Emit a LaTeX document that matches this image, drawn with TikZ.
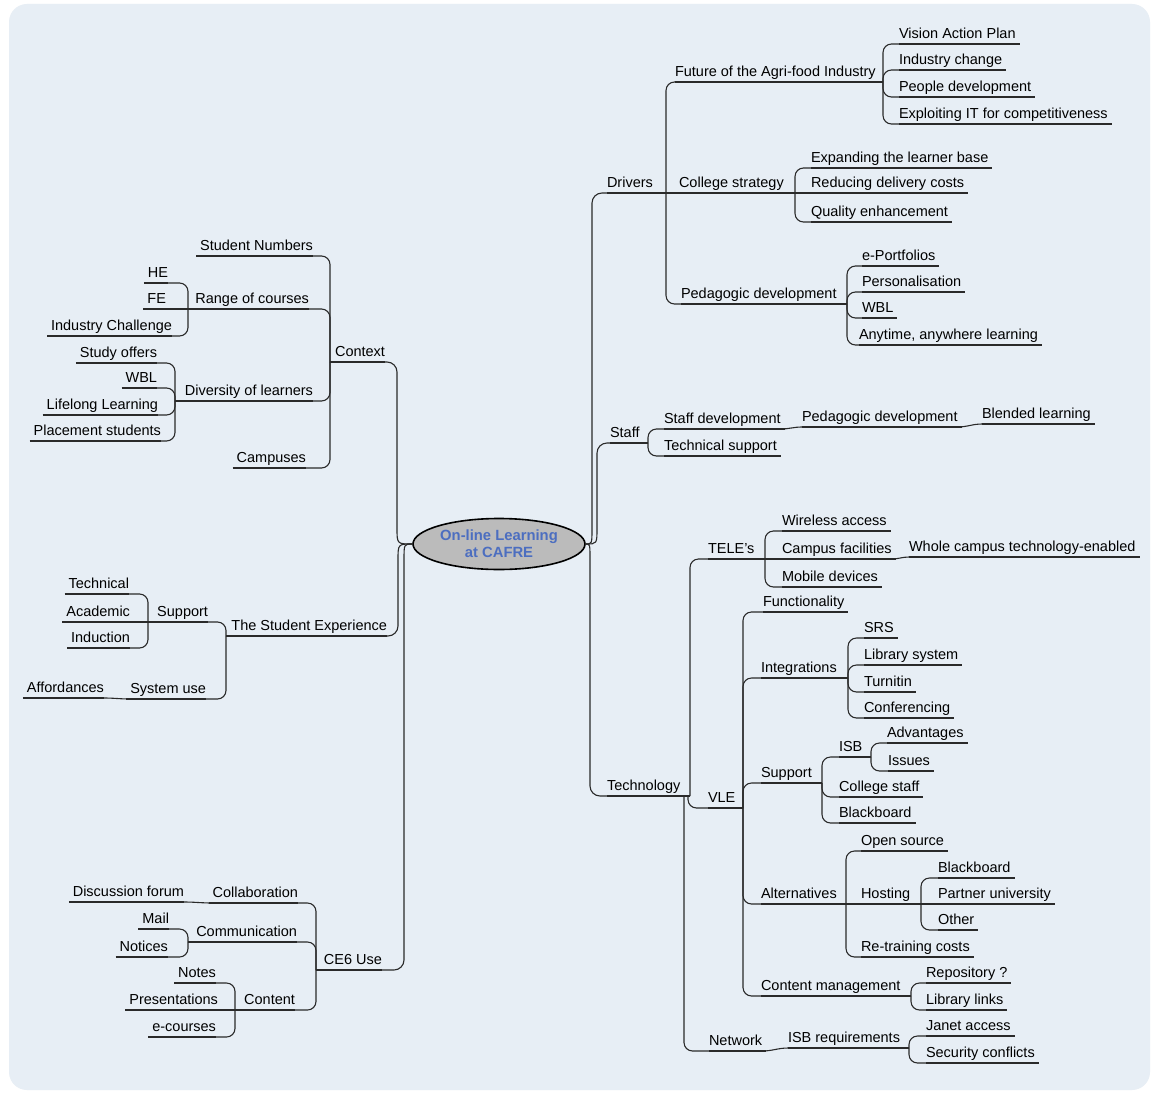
\documentclass[tikz,border=0pt]{standalone}
\usepackage{fontspec}
\setmainfont{Liberation Sans}
\usetikzlibrary{shapes.geometric}
\definecolor{bgc}{HTML}{E7EEF5}
\definecolor{ellfill}{HTML}{BBBBBB}
\definecolor{ttblue}{HTML}{4C6EC0}
\definecolor{lnc}{HTML}{2A2A2A}
\tikzset{
  ln/.style={draw=lnc, line width=1.1pt},
  base/.style={inner xsep=0pt, inner ysep=2.8pt, outer sep=0pt, text height=10.5pt, text depth=3.1pt, font=\fontsize{14.5}{17}\selectfont},
  rn/.style={base, anchor=south west},
  lnn/.style={base, anchor=south east},
}
\newcommand\nodeR[4]{\node[rn] (#1) at (#2,#3) {#4}; \draw[ln] (#1.south west) -- ([xshift=4pt]#1.south east);}
\newcommand\nodeL[4]{\node[lnn] (#1) at (#2,#3) {#4}; \draw[ln] ([xshift=-4pt]#1.south west) -- (#1.south east);}
\newcommand\linkR[3]{\draw[ln] (#1.south east) -- (#3,0 |- #1.south east); \draw[ln, rounded corners=8.5pt] (#3,0 |- #1.south east) -- (#3,0 |- #2.south west) -- (#2.south west);}
\newcommand\linkL[3]{\draw[ln] (#1.south west) -- (#3,0 |- #1.south west); \draw[ln, rounded corners=8.5pt] (#3,0 |- #1.south west) -- (#3,0 |- #2.south east) -- (#2.south east);}
\newcommand\straightR[2]{\draw[ln] (#1.south east) -- (#2.south west);}
\newcommand\straightL[2]{\draw[ln] (#1.south west) -- (#2.south east);}
\newcommand\smoothR[2]{\draw[ln] (#1.south east) to[out=0,in=180] (#2.south west);}
\newcommand\smoothL[2]{\draw[ln] (#1.south west) to[out=180,in=0] (#2.south east);}
\newcommand\centerR[3]{\draw[ln] (C.east) .. controls (#3,544) .. (#3,#2) [rounded corners=10pt] -- (#3,0 |- #1.south west) -- (#1.south west);}
\newcommand\centerL[3]{\draw[ln] (C.west) .. controls (#3,544) .. (#3,#2) [rounded corners=10pt] -- (#3,0 |- #1.south east) -- (#1.south east);}
\begin{document}
\begin{tikzpicture}[x=1pt,y=-1pt]
\useasboundingbox (0,0) rectangle (1155,1094);
\fill[white] (0,0) rectangle (1155,1094);
\fill[bgc, rounded corners=18pt] (9,4) rectangle (1150,1090);
% ---------------- center node
\node[ellipse, draw=black, line width=1.6pt, fill=ellfill, minimum width=172pt, minimum height=51pt, inner sep=0pt, align=center, text=ttblue, font=\fontsize{14.8}{17}\selectfont\bfseries] (C) at (499,544) {On-line Learning\\at CAFRE};
% ---------------- Drivers
\nodeR{drv}{607}{193}{Drivers}
\nodeR{fut}{675}{82}{Future of the Agri-food Industry}
\nodeR{vis}{899}{44}{Vision Action Plan}
\nodeR{ind}{899}{70}{Industry change}
\nodeR{ppl}{899}{97}{People development}
\nodeR{xit}{899}{124}{Exploiting IT for competitiveness}
\nodeR{col}{679}{193}{College strategy}
\nodeR{exb}{811}{168}{Expanding the learner base}
\nodeR{red}{811}{193}{Reducing delivery costs}
\nodeR{qua}{811}{222}{Quality enhancement}
\nodeR{ped}{681}{304}{Pedagogic development}
\nodeR{epf}{862}{266}{e-Portfolios}
\nodeR{per}{862}{292}{Personalisation}
\nodeR{wbl}{862}{318}{WBL}
\nodeR{any}{859}{345}{Anytime, anywhere learning}
\linkR{drv}{fut}{666}
\straightR{drv}{col}
\linkR{drv}{ped}{666}
\linkR{fut}{vis}{883}
\linkR{fut}{ind}{883}
\linkR{fut}{ppl}{883}
\linkR{fut}{xit}{883}
\linkR{col}{exb}{795}
\straightR{col}{red}
\linkR{col}{qua}{795}
\linkR{ped}{epf}{847}
\linkR{ped}{per}{847}
\linkR{ped}{wbl}{847}
\linkR{ped}{any}{847}
% ---------------- Staff
\nodeR{stf}{610}{443}{Staff}
\nodeR{sdv}{664}{429}{Staff development}
\nodeR{pdv}{802}{427}{Pedagogic development}
\nodeR{bll}{982}{424}{Blended learning}
\nodeR{tsp}{664}{456}{Technical support}
\linkR{stf}{sdv}{648}
\linkR{stf}{tsp}{648}
\smoothR{sdv}{pdv}
\smoothR{pdv}{bll}
% ---------------- Technology
\nodeR{tec}{607}{796}{Technology}
\nodeR{tel}{708}{559}{TELE's}
\nodeR{wir}{782}{531}{Wireless access}
\nodeR{cam}{782}{559}{Campus facilities}
\nodeR{whl}{909}{557}{Whole campus technology-enabled}
\nodeR{mob}{782}{587}{Mobile devices}
\linkR{tec}{tel}{690}
\linkR{tel}{wir}{765}
\straightR{tel}{cam}
\linkR{tel}{mob}{765}
\smoothR{cam}{whl}
\nodeR{vle}{708}{808}{VLE}
\linkR{tec}{vle}{688}
\nodeR{fun}{763}{612}{Functionality}
\nodeR{int}{761}{678}{Integrations}
\nodeR{srs}{864}{638}{SRS}
\nodeR{lsy}{864}{665}{Library system}
\nodeR{tur}{864}{692}{Turnitin}
\nodeR{cnf}{864}{718}{Conferencing}
\nodeR{sup}{761}{783}{Support}
\nodeR{isb}{839}{757}{ISB}
\nodeR{adv}{887}{743}{Advantages}
\nodeR{iss}{888}{771}{Issues}
\nodeR{cst}{839}{797}{College staff}
\nodeR{bbd}{839}{823}{Blackboard}
\nodeR{alt}{761}{904}{Alternatives}
\nodeR{ops}{861}{851}{Open source}
\nodeR{hos}{861}{904}{Hosting}
\nodeR{bbt}{938}{878}{Blackboard}
\nodeR{pun}{938}{904}{Partner university}
\nodeR{oth}{938}{930}{Other}
\nodeR{ret}{861}{957}{Re-training costs}
\nodeR{cmg}{761}{996}{Content management}
\nodeR{rep}{926}{983}{Repository ?}
\nodeR{lbl}{926}{1010}{Library links}
\nodeR{net}{709}{1051}{Network}
\nodeR{isr}{788}{1048}{ISB requirements}
\nodeR{jan}{926}{1036}{Janet access}
\nodeR{sec}{926}{1063}{Security conflicts}
\linkR{vle}{fun}{743}
\linkR{vle}{int}{743}
\linkR{vle}{sup}{743}
\linkR{vle}{alt}{743}
\linkR{vle}{cmg}{743}
\linkR{int}{srs}{848}
\linkR{int}{lsy}{848}
\linkR{int}{tur}{848}
\linkR{int}{cnf}{848}
\linkR{sup}{isb}{822}
\linkR{sup}{cst}{822}
\linkR{sup}{bbd}{822}
\linkR{isb}{adv}{871}
\linkR{isb}{iss}{871}
\linkR{alt}{ops}{846}
\straightR{alt}{hos}
\linkR{alt}{ret}{846}
\linkR{hos}{bbt}{921}
\straightR{hos}{pun}
\linkR{hos}{oth}{921}
\linkR{cmg}{rep}{911}
\linkR{cmg}{lbl}{911}
\linkR{tec}{net}{684}
\smoothR{net}{isr}
\linkR{isr}{jan}{909}
\linkR{isr}{sec}{909}
% ---------------- Context
\nodeL{ctx}{385}{362}{Context}
\nodeL{snu}{313}{256}{Student Numbers}
\nodeL{rng}{309}{309}{Range of courses}
\nodeL{he}{168}{283}{HE}
\nodeL{fe}{166}{309}{FE}
\nodeL{ich}{172}{336}{Industry Challenge}
\nodeL{div}{313}{401}{Diversity of learners}
\nodeL{sto}{157}{363}{Study offers}
\nodeL{wbb}{157}{388}{WBL}
\nodeL{lll}{158}{415}{Lifelong Learning}
\nodeL{pls}{161}{441}{Placement students}
\nodeL{cps}{306}{468}{Campuses}
\linkL{ctx}{snu}{330}
\linkL{ctx}{rng}{330}
\linkL{ctx}{div}{330}
\linkL{ctx}{cps}{330}
\linkL{rng}{he}{188}
\straightL{rng}{fe}
\linkL{rng}{ich}{188}
\linkL{div}{sto}{175}
\linkL{div}{wbb}{175}
\linkL{div}{lll}{175}
\linkL{div}{pls}{175}
% ---------------- Student Experience
\nodeL{tse}{387}{636}{The Student Experience}
\nodeL{spt}{208}{622}{Support}
\nodeL{sys}{206}{699}{System use}
\nodeL{tcn}{129}{594}{Technical}
\nodeL{aca}{130}{622}{Academic}
\nodeL{idc}{130}{648}{Induction}
\nodeL{aff}{104}{698}{Affordances}
\linkL{tse}{spt}{226}
\linkL{tse}{sys}{226}
\linkL{spt}{tcn}{148}
\straightL{spt}{aca}
\linkL{spt}{idc}{148}
\smoothL{sys}{aff}
% ---------------- CE6 Use
\nodeL{ce}{382}{970}{CE6 Use}
\nodeL{clb}{298}{903}{Collaboration}
\nodeL{com}{297}{942}{Communication}
\nodeL{cnt}{295}{1010}{Content}
\nodeL{dsf}{184}{902}{Discussion forum}
\nodeL{mai}{169}{929}{Mail}
\nodeL{ntc}{168}{957}{Notices}
\nodeL{nts}{216}{983}{Notes}
\nodeL{prs}{218}{1010}{Presentations}
\nodeL{ecs}{216}{1037}{e-courses}
\linkL{ce}{clb}{316}
\linkL{ce}{com}{316}
\linkL{ce}{cnt}{316}
\smoothL{clb}{dsf}
\linkL{com}{mai}{188}
\linkL{com}{ntc}{188}
\linkL{cnt}{nts}{235}
\straightL{cnt}{prs}
\linkL{cnt}{ecs}{235}
% ---------------- center links
\centerR{drv}{528}{592}
\centerR{stf}{528}{597}
\centerR{tec}{560}{590}
\centerL{ctx}{528}{397}
\centerL{tse}{560}{398}
\centerL{ce}{560}{404}
\end{tikzpicture}
\end{document}
